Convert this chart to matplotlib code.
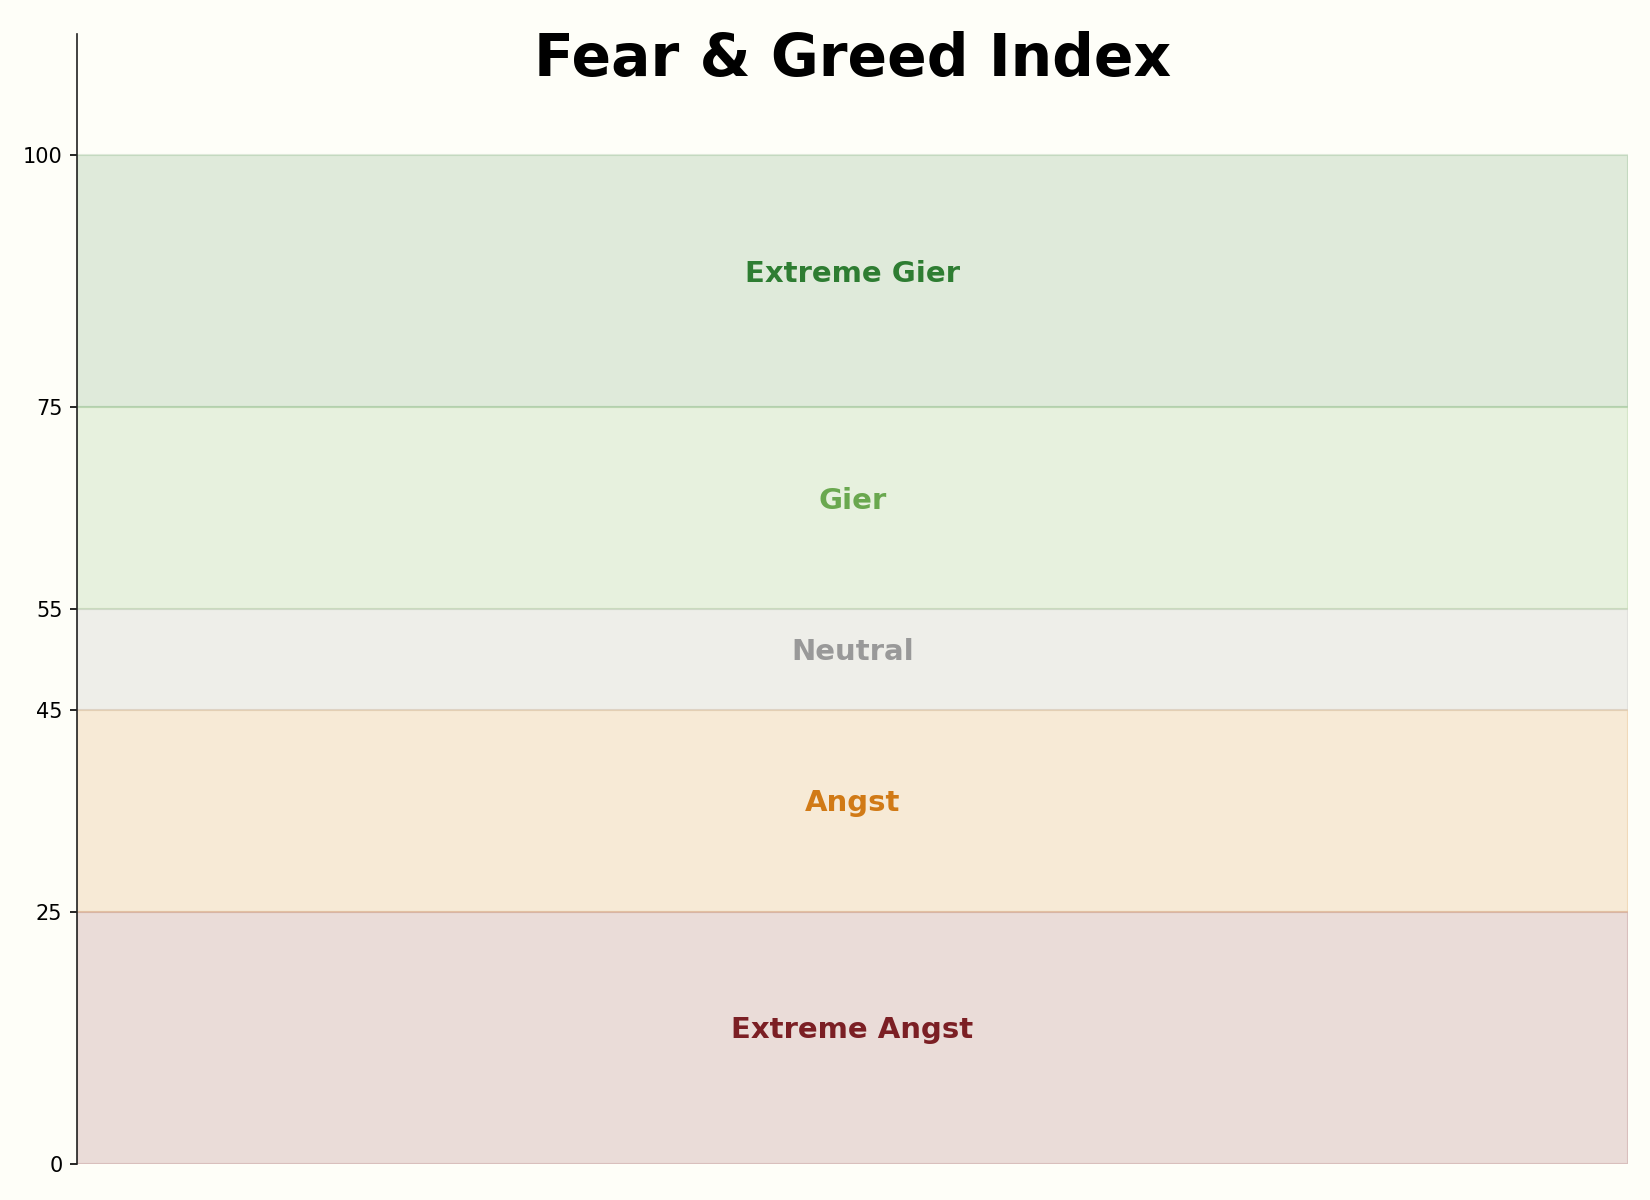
import matplotlib
matplotlib.use('Agg')
import matplotlib.pyplot as plt

# zone boundaries, labels and colours
bounds = [0, 25, 45, 55, 75, 100]
labels = ['Extreme Angst', 'Angst', 'Neutral', 'Gier', 'Extreme Gier']
colors = ['#7b1f24', '#d17a16', '#999999', '#6aa84f', '#2e7d32']
title = 'Fear & Greed Index'

bg = '#fefef8'
fig = plt.figure(figsize=(11, 8), dpi=150, facecolor=bg)
ax = fig.add_axes([0.0467, 0.03, 0.94, 0.9417])
ax.set_facecolor(bg)

for lo, hi, lab, c in zip(bounds[:-1], bounds[1:], labels, colors):
    ax.axhspan(lo, hi, color=c, alpha=0.15)
    # label sits a little above the zone middle
    ax.text(0.5, (lo + hi) / 2 + 0.75, lab, transform=ax.get_yaxis_transform(),
            ha='center', va='center', fontsize=14, fontweight='bold', color=c)

ax.set_ylim(0, 112)
ax.set_xlim(0, 1)
ax.set_yticks(bounds)
ax.set_xticks([])
for s in ['top', 'right', 'bottom']:
    ax.spines[s].set_visible(False)
ax.spines['left'].set_color('#222222')
ax.tick_params(axis='y', labelsize=10)

ax.text(0.5, 0.963, title, transform=ax.transAxes, ha='center', va='baseline',
        fontsize=28, fontweight='bold')

fig.savefig('out.png', dpi=150, facecolor=bg)
